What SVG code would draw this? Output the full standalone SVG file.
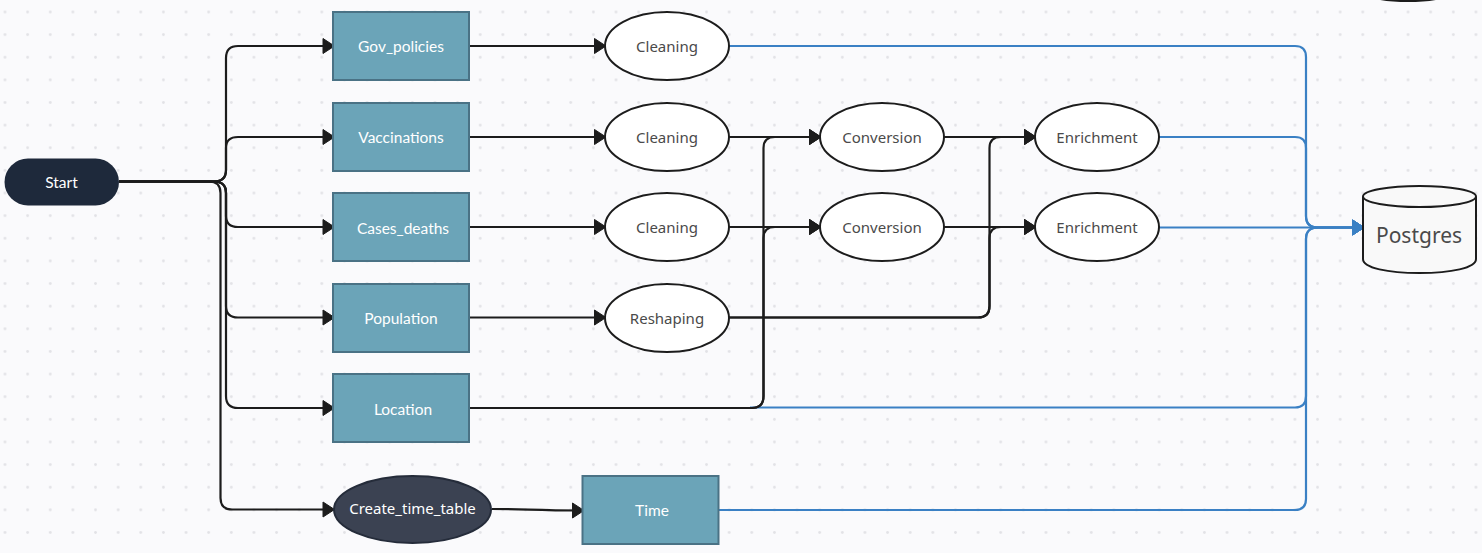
<svg xmlns="http://www.w3.org/2000/svg" width="1482" height="553" viewBox="0 0 1482 553">
<style>
text{font-family:"Noto Sans","Open Sans","DejaVu Sans",sans-serif;font-size:15px;text-anchor:middle;dominant-baseline:central}
.rect rect{fill:#6ba4b8;stroke:#4a7285;stroke-width:2}
.rect text,.lt{fill:#fff}
.rect text,.la{font-family:"Lato","Noto Sans",sans-serif;font-size:15.500px}
.oval{fill:#fff;stroke:#1c1c1c;stroke-width:2}
.dk{fill:#4a4a4a}
.c{fill:none;stroke:#1c1c1c;stroke-width:2.200}
.b{fill:none;stroke:#3a80c4;stroke-width:2.200}
</style>
<defs>
<pattern id="dots" width="22.63" height="22.63" patternUnits="userSpaceOnUse" x="-6.3" y="0.7">
<circle cx="11.3" cy="11.3" r="1.400" fill="#e2e2e6"/>
</pattern>
<marker id="ah" markerUnits="userSpaceOnUse" markerWidth="16" markerHeight="20" refX="13" refY="10" orient="auto"><path d="M1.500 2.500L13 10L1.500 17.500Z" fill="#1c1c1c" stroke="#1c1c1c" stroke-width="1" stroke-linejoin="round"/></marker>
<marker id="ab" markerUnits="userSpaceOnUse" markerWidth="16" markerHeight="20" refX="13" refY="10" orient="auto"><path d="M1.500 2.500L13 10L1.500 17.500Z" fill="#3a80c4" stroke="#3a80c4" stroke-width="1" stroke-linejoin="round"/></marker>
</defs>
<rect width="1482" height="553" fill="#fafafc"/>
<rect width="1482" height="553" fill="url(#dots)"/>
<g id="connectors">
<path class="b" d="M729 46H1295Q1306 46 1306 57V216Q1306 227.500 1318 227.500H1364" marker-end="url(#ab)"/>
<path class="b" d="M1159 137H1295Q1306 137 1306 148V216Q1306 227.500 1318 227.500H1364" marker-end="url(#ab)"/>
<path class="b" d="M1159 227.500H1364" marker-end="url(#ab)"/>
<path class="b" d="M750 407.500H1295Q1306 407.500 1306 396V239Q1306 227.500 1318 227.500H1364" marker-end="url(#ab)"/>
<path class="b" d="M718 510H1295Q1306 510 1306 499V239Q1306 227.500 1318 227.500H1364" marker-end="url(#ab)"/>
<path class="c" d="M119 181.500H214Q226 181.500 226 170V58Q226 46 238 46H334.500" marker-end="url(#ah)"/>
<path class="c" d="M119 181.500H214Q226 181.500 226 170V148Q226 137 238 137H334.500" marker-end="url(#ah)"/>
<path class="c" d="M119 181.500H214Q226 181.500 226 193V216Q226 227 238 227H334.500" marker-end="url(#ah)"/>
<path class="c" d="M119 181.500H214Q226 181.500 226 193V306Q226 317.500 238 317.500H334.500" marker-end="url(#ah)"/>
<path class="c" d="M119 181.500H214Q226 181.500 226 193V396Q226 408 238 408H334.500" marker-end="url(#ah)"/>
<path class="c" d="M119 181.500H209Q220.500 181.500 220.500 193V498Q220.500 509.500 232 509.500H334.500" marker-end="url(#ah)"/>
<path class="c" d="M492 509C530 509 530 510.500 584 510.500" marker-end="url(#ah)"/>
<path class="c" d="M469 46H606" marker-end="url(#ah)"/>
<path class="c" d="M469 137H606" marker-end="url(#ah)"/>
<path class="c" d="M469 227H606" marker-end="url(#ah)"/>
<path class="c" d="M469 317.500H606" marker-end="url(#ah)"/>
<path class="c" d="M729 137H821" marker-end="url(#ah)"/>
<path class="c" d="M729 227H821" marker-end="url(#ah)"/>
<path class="c" d="M469 408H752Q763.500 408 763.500 396V148Q763.500 137 775 137H821" marker-end="url(#ah)"/>
<path class="c" d="M469 408H752Q763.500 408 763.500 396V238Q763.500 227 775 227H821" marker-end="url(#ah)"/>
<path class="c" d="M944 137H1036" marker-end="url(#ah)"/>
<path class="c" d="M944 227H1036" marker-end="url(#ah)"/>
<path class="c" d="M729 317.500H978Q989.500 317.500 989.500 306V148Q989.500 137 1001 137H1036" marker-end="url(#ah)"/>
<path class="c" d="M729 317.500H978Q989.500 317.500 989.500 306V238Q989.500 227 1001 227H1036" marker-end="url(#ah)"/>
</g>
<g id="start"><rect x="4.500" y="158.500" width="114.500" height="47" rx="23.500" fill="#1e293b"/><text class="lt la" x="61.500" y="182">Start</text></g>
<g id="gov_policies" class="rect"><rect x="333" y="12" width="136" height="68"/><text x="401" y="46">Gov_policies</text></g>
<g id="vaccinations" class="rect"><rect x="333" y="103" width="136" height="68"/><text x="401" y="137">Vaccinations</text></g>
<g id="cases_deaths" class="rect"><rect x="333" y="193" width="136" height="68"/><text x="403" y="227.500">Cases_deaths</text></g>
<g id="population" class="rect"><rect x="333" y="284" width="136" height="68"/><text x="401" y="318">Population</text></g>
<g id="location" class="rect"><rect x="333" y="374" width="136" height="68"/><text x="403" y="408.500">Location</text></g>
<g id="cleaning1"><ellipse class="oval" cx="667" cy="46" rx="62" ry="34"/><text class="dk" x="667" y="45.500">Cleaning</text></g>
<g id="cleaning2"><ellipse class="oval" cx="667" cy="137" rx="62" ry="34"/><text class="dk" x="667" y="136.500">Cleaning</text></g>
<g id="cleaning3"><ellipse class="oval" cx="667" cy="227" rx="62" ry="34"/><text class="dk" x="667" y="227">Cleaning</text></g>
<g id="reshaping"><ellipse class="oval" cx="667" cy="318" rx="62" ry="34"/><text class="dk" x="667" y="317.500">Reshaping</text></g>
<g id="conversion1"><ellipse class="oval" cx="882" cy="137" rx="62" ry="34"/><text class="dk" x="882" y="136.500">Conversion</text></g>
<g id="conversion2"><ellipse class="oval" cx="882" cy="227" rx="62" ry="34"/><text class="dk" x="882" y="227">Conversion</text></g>
<g id="enrichment1"><ellipse class="oval" cx="1097" cy="137" rx="62" ry="34"/><text class="dk" x="1097" y="136.500">Enrichment</text></g>
<g id="enrichment2"><ellipse class="oval" cx="1097" cy="227" rx="62" ry="34"/><text class="dk" x="1097" y="227">Enrichment</text></g>
<g id="create_time_table"><ellipse cx="412.500" cy="509.500" rx="78.500" ry="33.500" fill="#3b4252" stroke="#252c3a" stroke-width="2"/><text class="lt" x="412.500" y="508">Create_time_table</text></g>
<g id="time" class="rect"><rect x="582.500" y="476" width="136" height="68"/><text x="652" y="510">Time</text></g>
<g id="postgres">
<path d="M1363 197V259C1363 268 1388 273 1419.500 273C1451 273 1476 268 1476 259V197" fill="#f9f9f9" stroke="#1c1c1c" stroke-width="2"/>
<ellipse cx="1419.500" cy="196.500" rx="56.500" ry="10.500" fill="#f9f9f9" stroke="#1c1c1c" stroke-width="2"/>
<text class="dk" x="1419" y="235" style="font-size:21px">Postgres</text>
</g>
<ellipse cx="1408" cy="-9" rx="46" ry="10" fill="#f9f9f9" stroke="#1c1c1c" stroke-width="2"/>
</svg>
